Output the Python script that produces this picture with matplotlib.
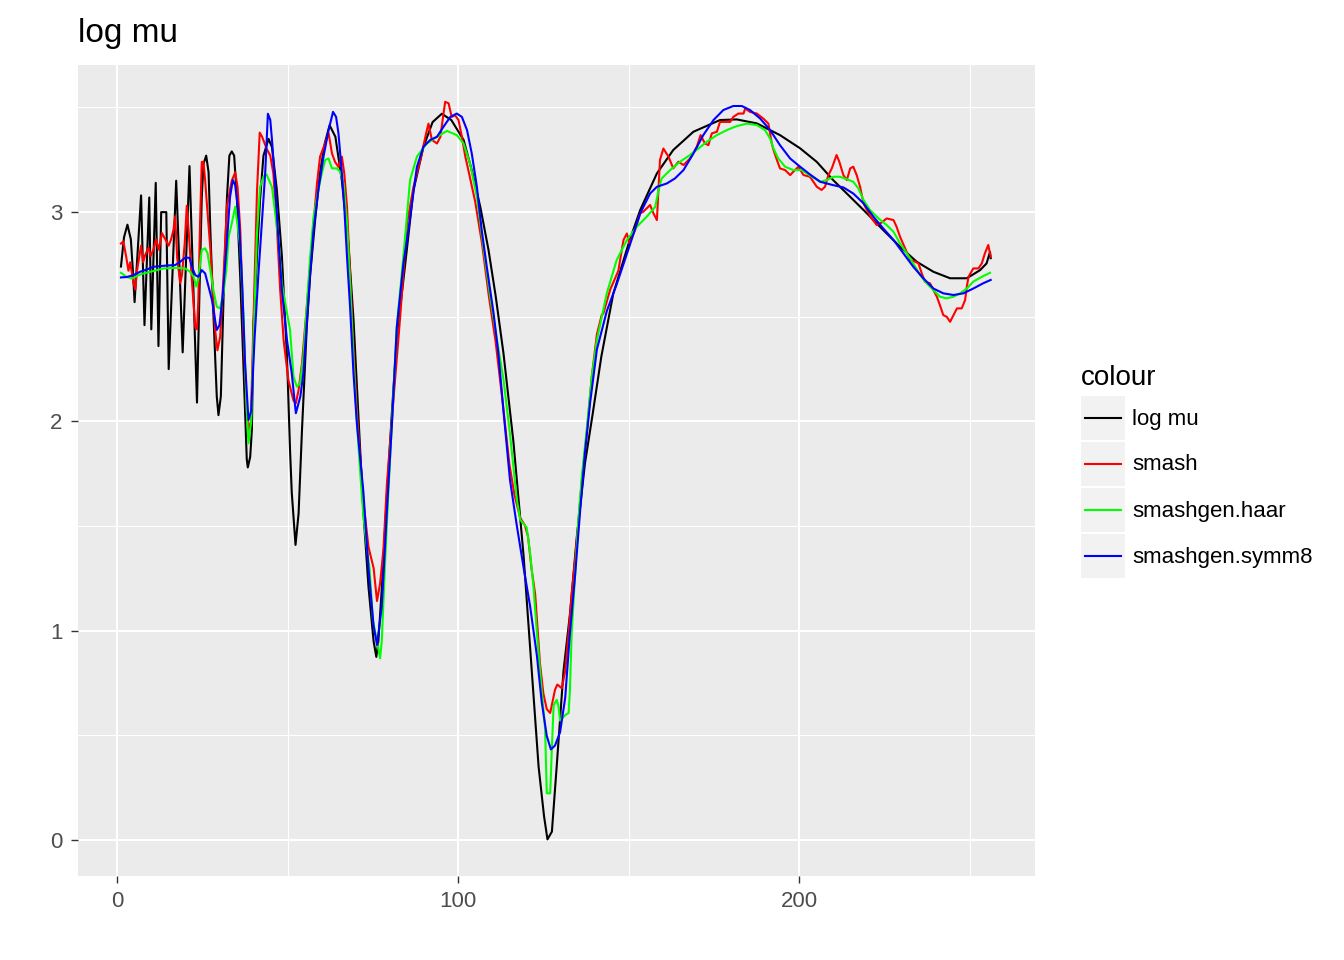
import matplotlib.pyplot as plt
from matplotlib.patches import Rectangle

plt.rcParams['font.family'] = ['Liberation Sans', 'DejaVu Sans']

# series as (x, y) vertices
series_names = ['log mu', 'smash', 'smashgen.haar', 'smashgen.symm8']
series_colours = ['#000000', '#FF0000', '#00FF00', '#0000FF']

logmu_pts = [
    (1.1, 2.74), (2.0, 2.88), (3.0, 2.94), (4.0, 2.87), (4.6, 2.72), (5.1, 2.57),
    (7.0, 3.08), (8.0, 2.46), (9.4, 3.07), (10.0, 2.44), (11.3, 3.14), (12.1, 2.36),
    (12.9, 3.00), (14.4, 3.00), (15.1, 2.25), (17.3, 3.15), (19.2, 2.33), (21.2, 3.22),
    (23.4, 2.09), (24.1, 2.60), (24.8, 3.07), (25.3, 3.23), (26.1, 3.27), (26.8, 3.19),
    (27.3, 2.92), (28.2, 2.52), (29.2, 2.12), (29.7, 2.03), (30.4, 2.12), (31.2, 2.60),
    (32.2, 3.07), (32.9, 3.27), (33.6, 3.29), (34.3, 3.27), (35.1, 3.07), (36.1, 2.68),
    (37.0, 2.28), (38.0, 1.82), (38.3, 1.78), (39.0, 1.83), (39.5, 1.96), (40.0, 2.47),
    (41.0, 2.79), (41.9, 3.06), (42.9, 3.27), (44.4, 3.35), (45.4, 3.31), (46.8, 3.11),
    (48.3, 2.79), (49.8, 2.31), (50.7, 1.86), (51.2, 1.66), (52.3, 1.41), (53.2, 1.56),
    (54.2, 1.96), (55.6, 2.45), (56.6, 2.70), (58.1, 2.97), (59.5, 3.19), (60.9, 3.33),
    (62.3, 3.415), (64.0, 3.36), (65.9, 3.15), (67.8, 2.85), (69.3, 2.49), (70.8, 2.01),
    (72.2, 1.57), (73.7, 1.21), (75.2, 0.95), (76.0, 0.875), (76.6, 0.95), (77.6, 1.20),
    (79.1, 1.65), (80.6, 2.05), (82.0, 2.40), (84.5, 2.755), (86.9, 3.105), (89.8, 3.31),
    (92.5, 3.43), (95.2, 3.47), (98.0, 3.44), (101.6, 3.345), (104.0, 3.20), (106.5, 3.025),
    (108.9, 2.82), (111.0, 2.60), (113.3, 2.325), (116.2, 1.905), (119.2, 1.357), (121.6, 0.807),
    (123.6, 0.35), (125.2, 0.113), (126.2, 0.003), (127.5, 0.04), (128.9, 0.35), (130.9, 0.807),
    (132.8, 1.08), (134.8, 1.447), (137.2, 1.80), (139.5, 2.04), (142.0, 2.31), (145.5, 2.61),
    (150.2, 2.86), (153.4, 3.01), (158.3, 3.185), (163.1, 3.297), (169.0, 3.384), (176.8, 3.44),
    (181.7, 3.443), (187.6, 3.424), (194.4, 3.368), (200.3, 3.305), (205.2, 3.24), (210.0, 3.153),
    (215.0, 3.073), (219.9, 2.994), (224.7, 2.914), (229.6, 2.835), (234.5, 2.763), (239.4, 2.715),
    (244.3, 2.684), (249.2, 2.684), (253.1, 2.723), (255.0, 2.755), (256.0, 2.81), (256.2, 2.78),
]

smash_pts = [
    (1.1, 2.85), (1.8, 2.86), (2.6, 2.79), (3.3, 2.72), (3.8, 2.76), (4.8, 2.66),
    (5.3, 2.63), (5.8, 2.72), (7.0, 2.84), (7.6, 2.76), (8.2, 2.795), (9.2, 2.83),
    (9.8, 2.79), (10.6, 2.82), (11.4, 2.87), (12.2, 2.82), (13.1, 2.90), (14.1, 2.87),
    (15.1, 2.84), (15.8, 2.87), (16.5, 2.915), (17.0, 2.98), (17.6, 2.78), (18.5, 2.66),
    (19.0, 2.70), (19.8, 2.85), (20.4, 3.03), (21.0, 2.90), (22.0, 2.65), (22.9, 2.45),
    (23.4, 2.44), (23.8, 2.58), (24.3, 2.95), (24.8, 3.24), (25.3, 3.24), (25.8, 3.15),
    (26.3, 3.04), (27.3, 2.83), (28.7, 2.44), (29.4, 2.34), (30.2, 2.405), (31.2, 2.70),
    (32.2, 3.03), (33.6, 3.15), (34.6, 3.19), (35.3, 3.12), (36.1, 2.915), (37.0, 2.44),
    (38.0, 2.05), (38.5, 1.96), (39.2, 2.00), (40.0, 2.50), (41.0, 3.10), (41.8, 3.38),
    (42.5, 3.36), (43.9, 3.30), (44.9, 3.27), (45.8, 3.185), (46.8, 2.946), (47.8, 2.628),
    (48.8, 2.39), (50.2, 2.198), (51.7, 2.10), (52.4, 2.087), (53.2, 2.15), (54.2, 2.278),
    (55.6, 2.548), (56.6, 2.74), (57.6, 2.946), (58.6, 3.137), (59.5, 3.265), (61.0, 3.33),
    (62.0, 3.377), (63.0, 3.28), (63.9, 3.24), (64.9, 3.216), (65.9, 3.265), (66.6, 3.185),
    (67.4, 3.025), (68.3, 2.707), (69.3, 2.35), (70.3, 2.05), (72.2, 1.62), (73.7, 1.40),
    (75.2, 1.30), (76.2, 1.142), (77.1, 1.225), (78.1, 1.39), (79.1, 1.70), (81.0, 2.10),
    (83.0, 2.50), (85.0, 2.946), (86.9, 3.12), (88.9, 3.25), (90.8, 3.39), (91.3, 3.423),
    (92.3, 3.345), (93.8, 3.328), (94.8, 3.36), (95.7, 3.47), (96.2, 3.527), (97.2, 3.52),
    (98.1, 3.455), (99.1, 3.463), (100.1, 3.44), (101.1, 3.36), (102.1, 3.265), (103.0, 3.20),
    (105.0, 3.05), (107.0, 2.85), (109.0, 2.60), (111.0, 2.38), (113.0, 2.10), (115.0, 1.80),
    (116.5, 1.65), (118.2, 1.539), (119.6, 1.503), (120.5, 1.45), (121.5, 1.30), (122.6, 1.173),
    (124.0, 0.844), (125.0, 0.70), (126.0, 0.625), (127.0, 0.607), (128.4, 0.717), (129.1, 0.743),
    (130.4, 0.725), (131.4, 0.807), (132.4, 0.99), (133.3, 1.173), (134.8, 1.429), (136.3, 1.721),
    (137.7, 1.94), (139.2, 2.215), (140.7, 2.416), (142.1, 2.508), (142.6, 2.516), (144.6, 2.63),
    (147.0, 2.72), (147.5, 2.771), (148.5, 2.867), (149.5, 2.898), (150.2, 2.85), (151.9, 2.915),
    (153.4, 2.994), (154.3, 3.002), (156.3, 3.034), (157.3, 2.994), (158.3, 2.962), (158.8, 3.121),
    (159.2, 3.249), (160.2, 3.304), (161.7, 3.265), (163.1, 3.209), (164.6, 3.241), (166.1, 3.225),
    (168.0, 3.256), (170.0, 3.312), (171.1, 3.368), (172.4, 3.328), (173.4, 3.32), (174.4, 3.376),
    (175.9, 3.384), (176.8, 3.431), (179.8, 3.431), (180.7, 3.455), (182.2, 3.471), (183.7, 3.471),
    (184.2, 3.495), (185.6, 3.479), (187.6, 3.471), (189.5, 3.447), (191.0, 3.423), (191.5, 3.376),
    (192.0, 3.328), (192.5, 3.297), (193.5, 3.249), (194.4, 3.209), (195.9, 3.201), (197.4, 3.177),
    (198.3, 3.193), (199.8, 3.217), (201.3, 3.177), (203.2, 3.169), (205.2, 3.121), (206.6, 3.106),
    (207.6, 3.121), (208.6, 3.177), (209.6, 3.209), (211.0, 3.273), (211.8, 3.241), (213.0, 3.177),
    (214.0, 3.153), (215.0, 3.209), (215.9, 3.217), (216.9, 3.177), (217.9, 3.121), (218.9, 3.042),
    (219.9, 3.01), (221.3, 2.97), (222.8, 2.938), (224.2, 2.95), (225.7, 2.97), (227.7, 2.962),
    (228.6, 2.93), (229.6, 2.883), (231.1, 2.827), (232.6, 2.771), (233.8, 2.765), (235.0, 2.755),
    (236.0, 2.707), (236.9, 2.668), (238.4, 2.66), (239.4, 2.628), (240.4, 2.596), (241.3, 2.556),
    (242.3, 2.508), (243.3, 2.50), (244.3, 2.476), (245.3, 2.508), (246.3, 2.54), (247.7, 2.54),
    (248.7, 2.58), (249.2, 2.644), (249.7, 2.691), (251.1, 2.731), (252.6, 2.731), (253.6, 2.755),
    (254.5, 2.803), (255.5, 2.843), (256.2, 2.787),
]

haar_pts = [
    (1.1, 2.71), (2.8, 2.69), (4.3, 2.683), (6.3, 2.699), (7.7, 2.707), (9.7, 2.715),
    (11.6, 2.723), (13.6, 2.731), (17.5, 2.734), (19.9, 2.731), (21.4, 2.715), (22.4, 2.691),
    (23.2, 2.644), (23.8, 2.683), (24.8, 2.819), (25.8, 2.827), (26.5, 2.803), (27.3, 2.723),
    (28.2, 2.628), (29.2, 2.548), (30.2, 2.54), (31.2, 2.62), (32.0, 2.723), (32.7, 2.883),
    (33.6, 2.946), (34.6, 3.025), (35.2, 2.95), (36.1, 2.834), (37.0, 2.516), (38.0, 2.05),
    (38.5, 1.895), (39.3, 2.00), (40.0, 2.40), (41.0, 2.90), (41.9, 3.12), (42.9, 3.17),
    (43.8, 3.18), (45.4, 3.12), (46.3, 3.00), (47.3, 2.867), (48.3, 2.66), (49.3, 2.564),
    (50.7, 2.437), (51.7, 2.214), (52.7, 2.166), (53.6, 2.18), (54.6, 2.309), (55.6, 2.548),
    (56.6, 2.787), (57.6, 2.978), (59.0, 3.106), (60.0, 3.185), (61.0, 3.249), (62.0, 3.256),
    (63.0, 3.209), (64.4, 3.209), (65.4, 3.193), (66.4, 3.137), (67.4, 2.946), (68.3, 2.66),
    (69.3, 2.30), (70.3, 2.00), (71.3, 1.75), (72.2, 1.55), (73.2, 1.40), (74.0, 1.30),
    (75.0, 1.05), (76.2, 0.95), (77.1, 0.868), (77.6, 0.95), (78.5, 1.30), (79.5, 1.65),
    (80.6, 2.00), (82.0, 2.45), (84.0, 2.80), (85.9, 3.153), (87.9, 3.265), (90.8, 3.328),
    (93.8, 3.36), (96.7, 3.388), (99.6, 3.368), (101.6, 3.328), (103.5, 3.232), (105.5, 3.073),
    (107.4, 2.834), (109.4, 2.596), (111.4, 2.389), (113.3, 2.20), (115.2, 1.94), (117.2, 1.63),
    (118.2, 1.53), (120.1, 1.493), (121.1, 1.374), (122.1, 1.209), (123.1, 0.99), (124.5, 0.717),
    (125.5, 0.533), (126.0, 0.223), (127.0, 0.223), (127.5, 0.442), (128.0, 0.643), (128.9, 0.67),
    (129.4, 0.643), (129.9, 0.57), (131.4, 0.597), (132.4, 0.607), (132.8, 0.717), (133.3, 0.99),
    (134.3, 1.264), (135.3, 1.539), (136.3, 1.74), (137.7, 1.959), (139.2, 2.215), (140.7, 2.389),
    (143.6, 2.612), (146.5, 2.771), (149.5, 2.867), (152.4, 2.93), (155.3, 2.978), (157.8, 3.025),
    (158.8, 3.106), (159.7, 3.161), (162.2, 3.201), (165.1, 3.241), (168.0, 3.273), (170.5, 3.304),
    (172.9, 3.336), (175.9, 3.368), (178.8, 3.392), (181.7, 3.411), (184.7, 3.423), (187.6, 3.416),
    (190.0, 3.392), (191.5, 3.352), (192.5, 3.304), (193.9, 3.256), (195.9, 3.217), (198.3, 3.201),
    (200.8, 3.201), (203.2, 3.175), (206.2, 3.145), (208.1, 3.153), (210.1, 3.169), (212.0, 3.169),
    (214.0, 3.157), (215.9, 3.145), (217.4, 3.113), (218.9, 3.058), (220.8, 3.01), (223.3, 2.97),
    (225.7, 2.938), (227.7, 2.906), (229.6, 2.851), (231.6, 2.803), (233.5, 2.755), (235.5, 2.699),
    (237.4, 2.66), (239.4, 2.628), (241.3, 2.596), (243.3, 2.588), (245.3, 2.596), (247.2, 2.612),
    (249.2, 2.635), (251.1, 2.668), (253.6, 2.691), (256.0, 2.71),
]

symm8_pts = [
    (1.1, 2.688), (2.8, 2.69), (4.8, 2.699), (6.7, 2.715), (8.7, 2.726), (10.6, 2.739),
    (12.6, 2.742), (14.6, 2.745), (17.0, 2.747), (18.5, 2.763), (19.9, 2.782), (21.2, 2.782),
    (21.9, 2.739), (22.9, 2.699), (23.8, 2.691), (24.8, 2.723), (25.8, 2.707), (26.8, 2.644),
    (27.8, 2.58), (28.7, 2.484), (29.2, 2.437), (30.0, 2.46), (31.0, 2.612), (32.0, 2.819),
    (33.1, 3.073), (33.9, 3.153), (34.6, 3.129), (35.6, 2.994), (36.6, 2.676), (37.5, 2.278),
    (38.5, 2.007), (39.3, 2.05), (40.3, 2.40), (41.4, 2.70), (42.4, 2.946), (43.4, 3.185),
    (44.2, 3.47), (44.9, 3.44), (45.4, 3.345), (46.3, 3.137), (47.3, 2.867), (48.3, 2.628),
    (49.8, 2.389), (51.2, 2.23), (52.4, 2.039), (53.7, 2.118), (54.6, 2.23), (55.6, 2.469),
    (56.6, 2.707), (57.6, 2.915), (59.0, 3.106), (60.5, 3.265), (62.0, 3.392), (63.3, 3.479),
    (64.2, 3.455), (64.9, 3.376), (65.9, 3.185), (66.6, 3.025), (67.4, 2.787), (68.3, 2.548),
    (69.3, 2.23), (70.3, 1.99), (72.2, 1.664), (73.7, 1.298), (75.2, 1.023), (76.2, 0.932),
    (77.6, 1.115), (79.1, 1.572), (80.6, 1.993), (82.0, 2.45), (84.0, 2.761), (85.0, 2.867),
    (87.9, 3.216), (89.8, 3.312), (91.8, 3.345), (93.8, 3.36), (95.7, 3.408), (97.7, 3.455),
    (99.6, 3.471), (101.1, 3.455), (102.6, 3.392), (104.0, 3.28), (105.5, 3.121), (106.9, 2.915),
    (108.4, 2.739), (110.4, 2.516), (111.8, 2.325), (113.3, 2.05), (115.2, 1.721), (117.2, 1.503),
    (119.2, 1.301), (121.1, 1.118), (123.1, 0.881), (124.5, 0.661), (126.0, 0.497), (127.2, 0.433),
    (128.4, 0.451), (129.9, 0.515), (131.4, 0.679), (132.8, 0.99), (134.3, 1.264), (135.8, 1.576),
    (137.2, 1.85), (138.7, 2.088), (140.7, 2.344), (143.6, 2.527), (146.5, 2.655), (149.9, 2.82),
    (153.4, 2.994), (156.3, 3.089), (158.3, 3.121), (161.2, 3.137), (163.6, 3.161), (166.1, 3.201),
    (169.0, 3.28), (171.9, 3.368), (174.9, 3.44), (177.8, 3.488), (180.7, 3.507), (183.2, 3.507),
    (185.6, 3.488), (188.6, 3.447), (191.5, 3.392), (194.4, 3.32), (197.4, 3.256), (200.3, 3.217),
    (203.2, 3.18), (206.2, 3.145), (210.0, 3.129), (213.0, 3.118), (215.9, 3.089), (218.9, 3.042),
    (221.8, 2.978), (224.7, 2.922), (227.7, 2.867), (230.6, 2.803), (233.5, 2.739), (236.5, 2.683),
    (239.4, 2.635), (242.3, 2.612), (245.3, 2.604), (248.2, 2.612), (251.1, 2.635), (254.0, 2.66),
    (256.2, 2.676),
]

x_ticks = [0, 100, 200]
x_minor = [50, 150, 250]
y_ticks = [0, 1, 2, 3]
y_minor = [0.5, 1.5, 2.5, 3.5]

W, H = 1344, 960
fig = plt.figure(figsize=(W / 100, H / 100), dpi=100)
ax = fig.add_axes([78 / W, 1 - 876 / H, (1035 - 78) / W, (876 - 65) / H])
ax.set_facecolor('#EBEBEB')

all_pts = [logmu_pts, smash_pts, haar_pts, symm8_pts]
for name, col, pts in zip(series_names, series_colours, all_pts):
    xs, ys = zip(*pts)
    ax.plot(xs, ys, color=col, lw=1.5, label=name, solid_joinstyle='round')

ax.set_xlim(-11.5, 269.2)
ax.set_ylim(-0.172, 3.703)

ax.set_xticks(x_ticks)
ax.set_xticks(x_minor, minor=True)
ax.set_yticks(y_ticks)
ax.set_yticks(y_minor, minor=True)
ax.grid(which='major', color='white', lw=1.5)
ax.grid(which='minor', color='white', lw=0.75)
ax.set_axisbelow(True)
for s in ax.spines.values():
    s.set_visible(False)
ax.tick_params(which='major', length=5, width=1, color='#333333',
               labelcolor='#4D4D4D', labelsize=16, pad=6)
ax.tick_params(which='minor', length=0)

fig.text(78 / W, 1 - 42 / H, 'log mu', fontsize=24, ha='left', va='baseline')

# legend drawn in pixel coordinates, ggplot style
lax = fig.add_axes([0, 0, 1, 1])
lax.set_xlim(0, W)
lax.set_ylim(H, 0)
lax.axis('off')
lax.text(1081, 385, 'colour', fontsize=20, ha='left', va='baseline')
for i, (name, col) in enumerate(zip(series_names, series_colours)):
    top = 396 + 46 * i
    lax.add_patch(Rectangle((1081, top), 44, 44, facecolor='#F2F2F2', edgecolor='none'))
    lax.plot([1085, 1121], [top + 22, top + 22], color=col, lw=1.5)
    lax.text(1132, top + 23, name, fontsize=16, ha='left', va='center')

fig.savefig('out.png', dpi=100)
